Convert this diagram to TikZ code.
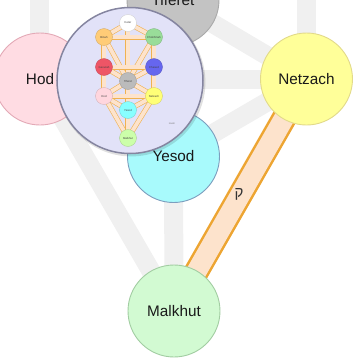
\documentclass[tikz,border=0pt]{standalone}
\usepackage{fontspec}
\setmainfont{Liberation Sans}
\newfontfamily\hebfont[Script=Hebrew]{Liberation Sans}
\TeXXeTstate=1
\definecolor{bandgray}{HTML}{F0F0F0}
\definecolor{pathorange}{HTML}{EDA532}
\definecolor{peach}{HTML}{FDE3CC}
\definecolor{hodfill}{HTML}{FFDCE3}
\definecolor{hoddraw}{HTML}{E3A9B6}
\definecolor{netfill}{HTML}{FFFF99}
\definecolor{netdraw}{HTML}{E2DA8A}
\definecolor{yesfill}{HTML}{A8FAFC}
\definecolor{yesdraw}{HTML}{7C9EBE}
\definecolor{malfill}{HTML}{D2FAD2}
\definecolor{maldraw}{HTML}{A2CDA2}
\definecolor{tiffill}{HTML}{C3C3C3}
\definecolor{tifdraw}{HTML}{A9A9A9}
\definecolor{lensfill}{HTML}{E2E2F8}
\definecolor{lensdraw}{HTML}{8585A0}
\definecolor{miniKe}{HTML}{FFFFFF}
\definecolor{miniCh}{HTML}{99DD99}
\definecolor{miniBi}{HTML}{FFCC77}
\definecolor{miniCs}{HTML}{6666EE}
\definecolor{miniGe}{HTML}{EE5566}
\definecolor{miniTi}{HTML}{BBBBBB}
\definecolor{miniNe}{HTML}{FFFF77}
\definecolor{miniHo}{HTML}{FFD6DE}
\definecolor{miniYe}{HTML}{88FFFF}
\definecolor{miniMa}{HTML}{CCFFAA}
\begin{document}
\begin{tikzpicture}[x=1pt,y=-1pt,
  sefira/.style={circle, minimum size=92pt, inner sep=0pt, line width=0.9pt,
    font=\fontsize{15.3}{16}\selectfont, text=black!90},
  faded/.style={draw=bandgray, line width=19pt},
  litpath/.style={draw=pathorange, line width=2.5pt, double=peach, double distance=20pt},
  minipath/.style={draw=pathorange!85, line width=0.6pt, double=peach, double distance=3.8pt},
  mini/.style={circle, minimum size=17pt, inner sep=0pt, line width=0.3pt,
    font=\fontsize{2.8}{3}\selectfont, text=black!75}]
\useasboundingbox (0,0) rectangle (360,360);
\clip (0,0) rectangle (360,360);
% main tree coordinates
\coordinate (cKe) at (173.5,-316);
\coordinate (cCh) at (306.5,-240);
\coordinate (cBi) at (40,-240);
\coordinate (cCs) at (306.5,-78);
\coordinate (cGe) at (40,-78);
\coordinate (cTi) at (173,0);
\coordinate (cNe) at (306.5,79);
\coordinate (cHo) at (40,79);
\coordinate (cYe) at (173.5,156.5);
\coordinate (cMa) at (174,311);
% faded paths
\foreach \a/\b in {Ke/Ch,Ke/Bi,Ke/Ti,Ch/Bi,Ch/Ti,Ch/Cs,Bi/Ti,Bi/Ge,Cs/Ge,Cs/Ti,Cs/Ne,Ge/Ti,Ge/Ho,Ti/Ne,Ti/Ye,Ti/Ho,Ne/Ho,Ne/Ye,Ho/Ye,Ho/Ma,Ye/Ma}
  \draw[faded] (c\a) -- (c\b);
% highlighted path
\draw[litpath] (cNe) -- (cMa);
\node[font=\hebfont\fontsize{15}{15}\selectfont, text=black!80, inner sep=0pt] (qoph) at (239,194) {\beginR ק\endR};
% sefirot
\node[sefira, fill=tiffill, draw=tifdraw] (Ti) at (cTi) {Tiferet};
\node[sefira, fill=hodfill, draw=hoddraw] (Ho) at (cHo) {Hod};
\node[sefira, fill=netfill, draw=netdraw] (Ne) at (cNe) {Netzach};
\node[sefira, fill=yesfill, draw=yesdraw] (Ye) at (cYe) {Yesod};
\node[sefira, fill=malfill, draw=maldraw] (Ma) at (cMa) {Malkhut};
% magnifier
\fill[black, opacity=0.12] (131.2,82.2) circle (74.2);
\node[circle, minimum size=146pt, inner sep=0pt, fill=lensfill, draw=lensdraw, line width=1.5pt] (lens) at (130,80.5) {};
% mini tree
\coordinate (mKe) at (128,23);
\coordinate (mCh) at (154,37);
\coordinate (mBi) at (104,37);
\coordinate (mCs) at (154,67);
\coordinate (mGe) at (104,67);
\coordinate (mTi) at (128,81);
\coordinate (mNe) at (154,96);
\coordinate (mHo) at (104,96);
\coordinate (mYe) at (128,110);
\coordinate (mMa) at (128,138);
\foreach \a/\b in {Ke/Ch,Ke/Bi,Ke/Ti,Ch/Bi,Ch/Ti,Ch/Cs,Bi/Ti,Bi/Ge,Cs/Ge,Cs/Ti,Cs/Ne,Ge/Ti,Ge/Ho,Ti/Ne,Ti/Ye,Ti/Ho,Ne/Ho,Ne/Ye,Ne/Ma,Ho/Ye,Ho/Ma,Ye/Ma}
  \draw[minipath] (m\a) -- (m\b);
\node[mini, fill=miniKe, draw=black!20] (nKe) at (mKe) {Keter};
\node[mini, fill=miniCh, draw=miniCh!80!black] (nCh) at (mCh) {Chokhmah};
\node[mini, fill=miniBi, draw=miniBi!80!black] (nBi) at (mBi) {Binah};
\node[mini, fill=miniCs, draw=miniCs!80!black] (nCs) at (mCs) {Chesed};
\node[mini, fill=miniGe, draw=miniGe!80!black] (nGe) at (mGe) {Gevurah};
\node[mini, fill=miniTi, draw=miniTi!80!black] (nTi) at (mTi) {Tiferet};
\node[mini, fill=miniNe, draw=miniNe!80!black] (nNe) at (mNe) {Netzach};
\node[mini, fill=miniHo, draw=miniHo!80!black] (nHo) at (mHo) {Hod};
\node[mini, fill=miniYe, draw=miniYe!80!black] (nYe) at (mYe) {Yesod};
\node[mini, fill=miniMa, draw=miniMa!80!black] (nMa) at (mMa) {Malkhut};
\node[font=\fontsize{2.5}{3}\selectfont, text=black!55, inner sep=0pt] (zoomlbl) at (172,124) {zoom};
\end{tikzpicture}
\end{document}
